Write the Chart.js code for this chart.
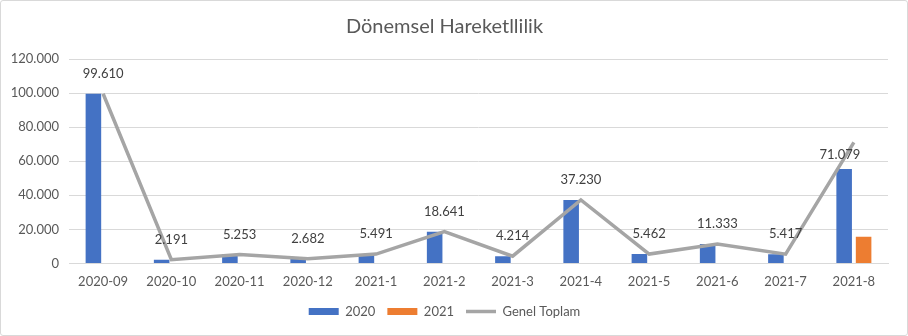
<!DOCTYPE html>
<html>
<head>
<meta charset="utf-8">
<script src="https://cdn.jsdelivr.net/npm/chart.js@4/dist/chart.umd.min.js"></script>
<style>
  html, body { margin: 0; padding: 0; background: #fff; }
  #wrap { position: relative; width: 906px; height: 334px; border: 1px solid #d9d9d9; border-radius: 3px; }
  canvas { display: block; }
</style>
</head>
<body>
<div id="wrap"><canvas id="c" width="906" height="334"></canvas></div>
<script>
const categories = ['2020-09','2020-10','2020-11','2020-12','2021-1','2021-2','2021-3','2021-4','2021-5','2021-6','2021-7','2021-8'];
const series2020 = [99610, 2191, 5253, 2682, 5491, 18641, 4214, 37230, 5462, 11333, 5417, 55400];
const series2021 = [null, null, null, null, null, null, null, null, null, null, null, 15679];
const genelToplam = [99610, 2191, 5253, 2682, 5491, 18641, 4214, 37230, 5462, 11333, 5417, 71079];
const yTicks = [0, 20000, 40000, 60000, 80000, 100000, 120000];

function fmt(v) {
  return String(Math.round(v)).replace(/\B(?=(\d{3})+(?!\d))/g, '.');
}

const FONT = 'Lato, "Open Sans", sans-serif';

const lineLabels = {
  id: 'lineLabels',
  afterDatasetsDraw(chart) {
    const ctx = chart.ctx;
    const meta = chart.getDatasetMeta(2);
    const ds = chart.data.datasets[2];
    ctx.save();
    ctx.font = '13px ' + FONT;
    ctx.fillStyle = '#404040';
    ctx.textAlign = 'center';
    ctx.textBaseline = 'middle';
    meta.data.forEach((pt, i) => {
      const last = i === meta.data.length - 1;
      const dx = last ? -14 : 0;
      const dy = last ? 12 : -20;
      ctx.fillText(fmt(ds.data[i]), pt.x + dx, pt.y + dy);
    });
    ctx.restore();
  }
};

new Chart(document.getElementById('c'), {
  data: {
    labels: categories,
    datasets: [
      { type: 'bar', label: '2020', data: series2020, backgroundColor: '#4472c4', barPercentage: 0.8, categoryPercentage: 0.57, order: 2, pointStyle: 'rect' },
      { type: 'bar', label: '2021', data: series2021, backgroundColor: '#ed7d31', barPercentage: 0.8, categoryPercentage: 0.57, order: 2, pointStyle: 'rect' },
      { type: 'line', label: 'Genel Toplam', data: genelToplam, borderColor: '#a5a5a5', backgroundColor: '#a5a5a5', borderWidth: 3.5, pointRadius: 0, tension: 0, order: 1, pointStyle: 'line' }
    ]
  },
  options: {
    responsive: false,
    animation: false,
    layout: { padding: { left: 0, right: 19, top: 0, bottom: 7 } },
    plugins: {
      title: {
        display: true, text: 'Dönemsel Hareketllilik', color: '#595959',
        font: { family: FONT, size: 20, weight: 'normal' },
        padding: { top: 14, bottom: 20 }
      },
      legend: {
        position: 'bottom',
        labels: {
          usePointStyle: true, pointStyleWidth: 30, boxWidth: 30, boxHeight: 7,
          color: '#595959', font: { family: FONT, size: 13 }, padding: 12,
          sort: (a, b) => a.datasetIndex - b.datasetIndex
        }
      },
      tooltip: { enabled: false }
    },
    scales: {
      x: {
        grid: { display: false },
        border: { color: '#d9d9d9' },
        ticks: { color: '#595959', font: { family: FONT, size: 13 }, maxRotation: 0, padding: 3 }
      },
      y: {
        min: 0, max: 120000,
        afterFit(scale) { scale.width = 68; },
        afterBuildTicks(scale) { scale.ticks = yTicks.map(v => ({ value: v })); },
        grid: { color: '#d9d9d9', drawTicks: false },
        border: { display: false },
        ticks: { color: '#595959', font: { family: FONT, size: 13 }, padding: 10, callback: v => fmt(v) }
      }
    }
  },
  plugins: [lineLabels]
});
</script>
</body>
</html>
